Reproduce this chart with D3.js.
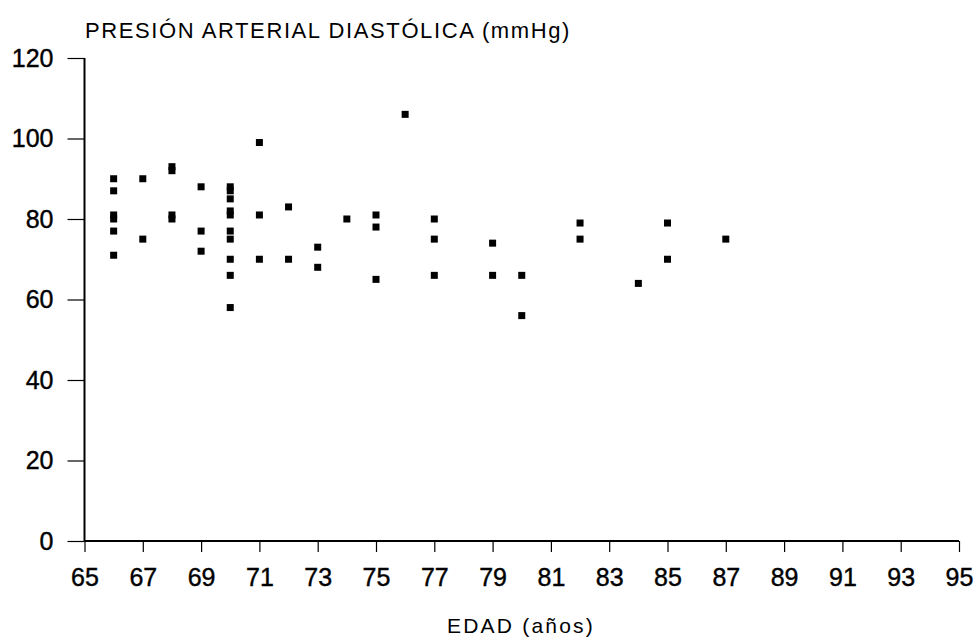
<!DOCTYPE html>
<html><head><meta charset="utf-8">
<script src="https://cdn.jsdelivr.net/npm/d3@7"></script>
<style>body{margin:0;background:#fff}</style>
</head><body>
<svg id="c" width="977" height="640"></svg>
<script>
const ages = [66,66,66,66,66,66, 67,67, 68,68,68,68, 69,69,69,
  70,70,70,70,70,70,70,70,70,70, 71,71,71, 72,72, 73,73, 74, 75,75,75, 76,
  77,77,77, 79,79, 80,80, 82,82, 84, 85,85, 87];
const pressure = [90,87,81,80,77,71, 90,75, 93,92,81,80, 88,77,72,
  88,87,85,82,81,77,75,70,66,58, 99,81,70, 83,70, 73,68, 80, 81,78,65, 106,
  80,75,66, 74,66, 66,56, 79,75, 64, 79,70, 75];
const xTicks = d3.range(65, 96, 2);
const yTicks = [0,20,40,60,80,100,120];
const title = "PRESIÓN ARTERIAL DIASTÓLICA (mmHg)";
const xTitle = "EDAD (años)";

const svg = d3.select("#c");
const font = "'Liberation Sans', Arial, Helvetica, sans-serif";
const x = d3.scaleLinear().domain([65,95]).range([84.5,959]);
const y = d3.scaleLinear().domain([0,120]).range([541,58]);

const gx = svg.append("g").attr("transform","translate(0,541)")
  .call(d3.axisBottom(x).tickValues(xTicks).tickSize(11).tickPadding(16).tickFormat(d3.format("d")));
const gy = svg.append("g").attr("transform","translate(84.5,0)")
  .call(d3.axisLeft(y).tickValues(yTicks).tickSize(17).tickPadding(14).tickFormat(d3.format("d")));
[gx,gy].forEach(g=>{
  g.select(".domain").attr("stroke","#000").attr("stroke-width",2);
  g.selectAll(".tick line").attr("stroke","#000").attr("stroke-width",1.2);
  g.selectAll(".tick text").attr("fill","#000").style("font-family",font)
   .style("font-size","25px").attr("stroke","#000").attr("stroke-width",0.4);
});
gx.select(".domain").attr("d","M84.5,0H959");
gy.select(".domain").attr("d","M0,58V541");
gx.selectAll(".tick text").attr("dy","0.71em");

svg.append("g").selectAll("rect").data(ages.map((a,i)=>[a,pressure[i]])).join("rect")
  .attr("x",d=>x(d[0])-3.5).attr("y",d=>y(d[1])-3.5)
  .attr("width",7).attr("height",7).attr("fill","#000");

svg.append("text").attr("x",85).attr("y",38).text(title)
  .style("font-family",font).style("font-size","22px").style("letter-spacing","1.6px").attr("fill","#000");
svg.append("text").attr("x",521).attr("y",633).attr("text-anchor","middle").text(xTitle)
  .style("font-family",font).style("font-size","21px").style("letter-spacing","2.2px").attr("fill","#000");
</script>
</body></html>
